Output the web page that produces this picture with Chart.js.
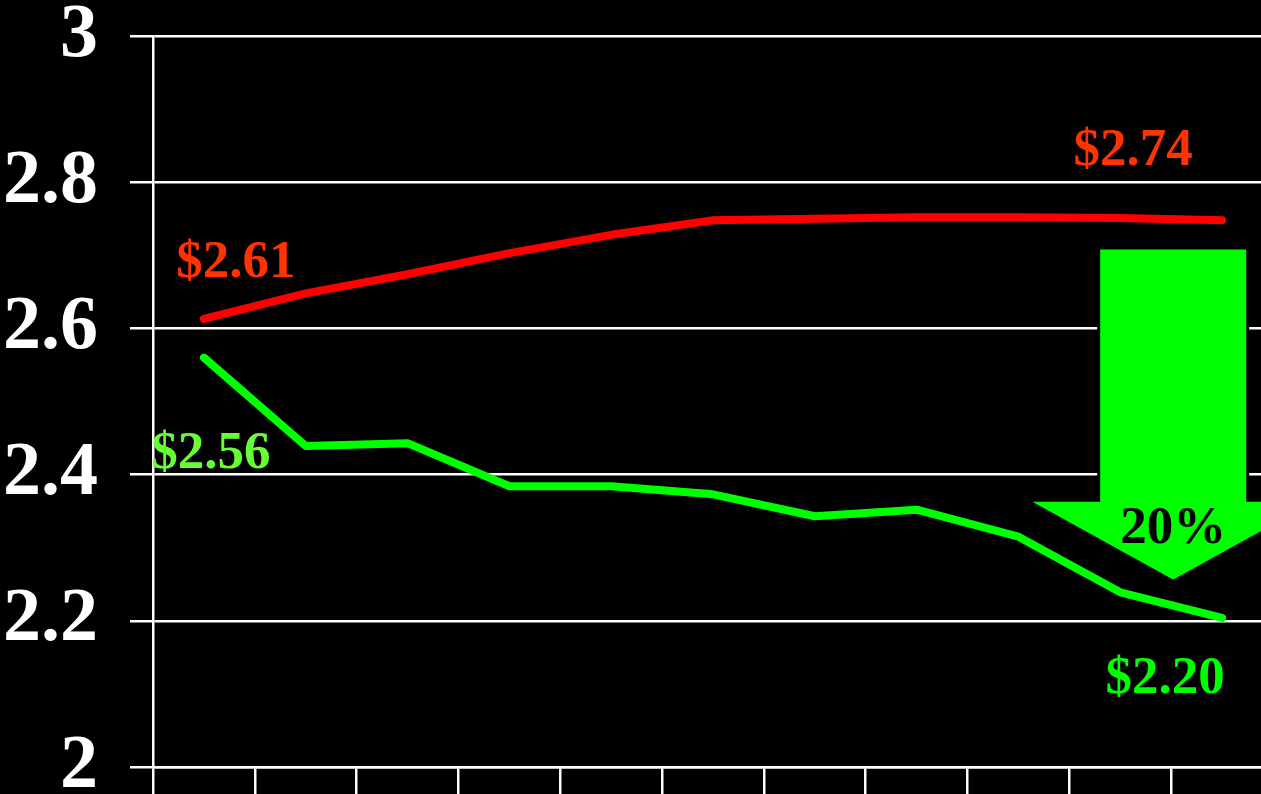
<!DOCTYPE html>
<html>
<head>
<meta charset="utf-8">
<script src="https://cdn.jsdelivr.net/npm/chart.js@4"></script>
<style>
  html, body { margin: 0; padding: 0; background: #000; overflow: hidden; }
  #wrap { position: relative; width: 1273px; height: 794px; }
</style>
</head>
<body>
<div id="wrap"><canvas id="c"></canvas></div>
<script>
// ---- data ----
const categories = ['1', '2', '3', '4', '5', '6', '7', '8', '9', '10', '11'];
const redSeries = [2.613, 2.648, 2.674, 2.703, 2.728, 2.748, 2.750, 2.752, 2.752, 2.751, 2.748];
const greenSeries = [2.560, 2.439, 2.443, 2.384, 2.384, 2.373, 2.343, 2.352, 2.315, 2.239, 2.204];
const yTicks = [2, 2.2, 2.4, 2.6, 2.8, 3];
const redLabels = ['$2.61', '$2.74'];
const greenLabels = ['$2.56', '$2.20'];
const dropLabel = '20%';

const SERIF = '"Liberation Serif", "Times New Roman", serif';

const annotations = {
  id: 'annotations',
  afterDatasetsDraw(chart) {
    const ctx = chart.ctx;
    const xs = chart.scales.x, ys = chart.scales.y;
    const last = categories.length - 1;
    ctx.save();
    ctx.font = 'bold 53px ' + SERIF;
    ctx.textAlign = 'center';
    ctx.textBaseline = 'alphabetic';
    // red labels
    ctx.fillStyle = '#FF3300';
    ctx.fillText(redLabels[0], xs.getPixelForValue(0) + 32, ys.getPixelForValue(redSeries[0]) - 42);
    ctx.fillText(redLabels[1], xs.getPixelForValue(last) - 89, ys.getPixelForValue(redSeries[last]) - 55);
    // green labels
    ctx.fillStyle = '#66FF33';
    ctx.fillText(greenLabels[0], xs.getPixelForValue(0) + 7, ys.getPixelForValue(greenSeries[0]) + 110);
    ctx.fillStyle = '#00FF00';
    ctx.fillText(greenLabels[1], xs.getPixelForValue(last) - 57, ys.getPixelForValue(greenSeries[last]) + 75);

    // down arrow
    const cx = xs.getPixelForValue(last - 0.5) + 2;
    const top = ys.getPixelForValue(2.71);
    const neck = ys.getPixelForValue(2.365);
    const tip = ys.getPixelForValue(2.254);
    const sw = 74.5, hw = 147;
    ctx.beginPath();
    ctx.moveTo(cx - sw, top);
    ctx.lineTo(cx + sw, top);
    ctx.lineTo(cx + sw, neck);
    ctx.lineTo(cx + hw, neck);
    ctx.lineTo(cx, tip);
    ctx.lineTo(cx - hw, neck);
    ctx.lineTo(cx - sw, neck);
    ctx.closePath();
    ctx.fillStyle = '#00FF00';
    ctx.fill();
    ctx.lineWidth = 3;
    ctx.strokeStyle = '#000';
    ctx.lineJoin = 'miter';
    ctx.stroke();
    ctx.fillStyle = '#000';
    ctx.fillText(dropLabel, cx, neck + 43);
    ctx.restore();
  }
};

new Chart(document.getElementById('c'), {
  type: 'line',
  data: {
    labels: categories,
    datasets: [
      { data: redSeries, borderColor: '#FF0000', borderWidth: 8, pointRadius: 0,
        borderCapStyle: 'round', borderJoinStyle: 'round', tension: 0, fill: false },
      { data: greenSeries, borderColor: '#00FF00', borderWidth: 8, pointRadius: 0,
        borderCapStyle: 'round', borderJoinStyle: 'round', tension: 0, fill: false }
    ]
  },
  options: {
    responsive: true,
    maintainAspectRatio: false,
    animation: false,
    layout: { padding: { top: 36, left: 0, right: 0, bottom: 0 } },
    plugins: { legend: { display: false }, tooltip: { enabled: false } },
    scales: {
      x: {
        offset: true,
        grid: { display: true, drawOnChartArea: false, drawTicks: true, tickLength: 27,
                color: '#FFFFFF', lineWidth: 2.5, offset: true },
        border: { display: true, color: '#FFFFFF', width: 2.5 },
        ticks: { display: false }
      },
      y: {
        min: 2, max: 3,
        afterBuildTicks(scale) { scale.ticks = yTicks.map(v => ({ value: v })); },
        afterFit(scale) { scale.width = 153; scale.paddingTop = 0; scale.paddingBottom = 0; },
        grid: { color: '#FFFFFF', lineWidth: 2.5, drawTicks: true, tickLength: 23 },
        border: { display: true, color: '#FFFFFF', width: 2.5 },
        ticks: {
          color: '#FFFFFF',
          padding: 32,
          font: { family: SERIF, size: 76, weight: 'bold', lineHeight: 1 },
          callback: (v) => String(Math.round(v * 10) / 10)
        }
      }
    }
  },
  plugins: [annotations]
});
</script>
</body>
</html>
